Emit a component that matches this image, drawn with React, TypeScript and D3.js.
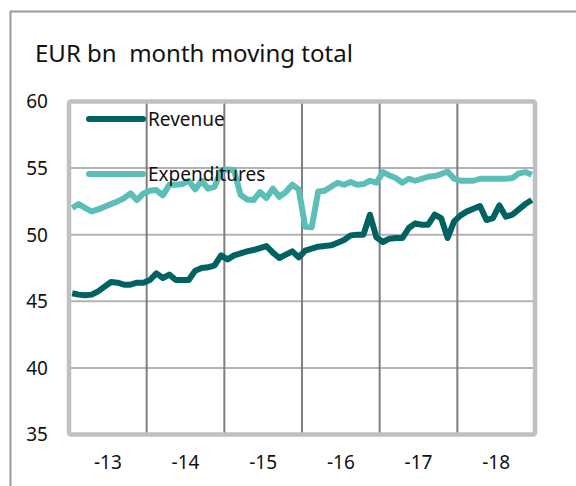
import * as d3 from "d3";
import { useEffect, useRef } from "react";

// monthly 12-month moving totals, Jan 2013 .. Dec 2018
const yearLabels = ["-13", "-14", "-15", "-16", "-17", "-18"];

const revenue = [
  45.6, 45.5, 45.45, 45.5, 45.75, 46.1, 46.45, 46.4, 46.25, 46.25, 46.4, 46.4,
  46.6, 47.1, 46.75, 47.0, 46.6, 46.6, 46.6, 47.3, 47.5, 47.55, 47.7, 48.45,
  48.15, 48.45, 48.6, 48.75, 48.85, 49.0, 49.15, 48.65, 48.25, 48.5, 48.75, 48.3,
  48.8, 48.95, 49.1, 49.15, 49.2, 49.4, 49.6, 49.95, 50.0, 50.0, 51.5, 49.8,
  49.45, 49.7, 49.75, 49.75, 50.5, 50.85, 50.75, 50.75, 51.5, 51.25, 49.75, 51.0,
  51.45, 51.75, 51.95, 52.15, 51.1, 51.25, 52.2, 51.35, 51.5, 51.9, 52.3, 52.6,
];

const expenditures = [
  52.0, 52.3, 52.0, 51.75, 51.9, 52.1, 52.3, 52.5, 52.75, 53.1, 52.6, 53.1,
  53.3, 53.35, 52.95, 53.75, 53.75, 53.8, 54.05, 53.4, 54.05, 53.45, 53.6, 54.8,
  54.9, 54.85, 53.0, 52.65, 52.6, 53.2, 52.75, 53.45, 52.85, 53.2, 53.75, 53.4,
  50.6, 50.55, 53.25, 53.3, 53.6, 53.9, 53.75, 53.95, 53.75, 53.8, 54.05, 53.9,
  54.7, 54.45, 54.25, 53.9, 54.2, 54.05, 54.2, 54.35, 54.4, 54.55, 54.75, 54.2,
  54.05, 54.05, 54.05, 54.2, 54.2, 54.2, 54.2, 54.2, 54.25, 54.6, 54.7, 54.5,
];

const yTicks = [35, 40, 45, 50, 55, 60];

const series = [
  { name: "Revenue", values: revenue, color: "#006361" },
  { name: "Expenditures", values: expenditures, color: "#5cbfb7" },
];

export default function App() {
  const width = 576;
  const height = 486;
  const plotLeft = 69;
  const plotRight = 535;
  const plotTop = 101.5;
  const plotBottom = 434.5;
  const font = "'Noto Sans', sans-serif";
  const ref = useRef<SVGSVGElement>(null);

  useEffect(() => {
    const svg = d3.select(ref.current);
    svg.selectAll("*").remove();

    const months = d3.range(revenue.length);
    const x = d3.scalePoint<number>().domain(months).range([plotLeft, plotRight]).padding(0.5);
    const y = d3.scaleLinear().domain([35, 60]).range([plotBottom, plotTop]);

    // outer frame (only top and left visible)
    svg.append("path")
      .attr("d", `M10.5,${height} V11.5 H${width}`)
      .attr("fill", "none")
      .attr("stroke", "#9a9a9a")
      .attr("stroke-width", 2);

    svg.append("text")
      .attr("x", 35)
      .attr("y", 62)
      .attr("font-family", font)
      .attr("font-size", 24)
      .attr("fill", "#111")
      .style("white-space", "pre")
      .text("EUR bn  month moving total");

    // horizontal grid
    svg.append("g")
      .selectAll("line")
      .data(yTicks.filter((t) => t > 35 && t < 60))
      .join("line")
      .attr("x1", plotLeft)
      .attr("x2", plotRight)
      .attr("y1", (d) => y(d))
      .attr("y2", (d) => y(d))
      .attr("stroke", "#b3b3b3")
      .attr("stroke-width", 2);

    // year separators
    const years = yearLabels.map((label, k) => ({ label, first: k * 12, last: k * 12 + 11 }));
    const step = x.step();
    svg.append("g")
      .selectAll("line")
      .data(years.slice(1))
      .join("line")
      .attr("x1", (d) => x(d.first)! - step / 2)
      .attr("x2", (d) => x(d.first)! - step / 2)
      .attr("y1", plotTop)
      .attr("y2", plotBottom)
      .attr("stroke", "#7f7f7f")
      .attr("stroke-width", 2);

    svg.append("rect")
      .attr("x", plotLeft)
      .attr("y", plotTop)
      .attr("width", plotRight - plotLeft)
      .attr("height", plotBottom - plotTop)
      .attr("rx", 2)
      .attr("fill", "none")
      .attr("stroke", "#c0c0c0")
      .attr("stroke-width", 4.5);

    // y tick labels
    svg.append("g")
      .selectAll("text")
      .data(yTicks)
      .join("text")
      .attr("x", 48)
      .attr("y", (d) => y(d))
      .attr("dy", "0.36em")
      .attr("text-anchor", "end")
      .attr("font-family", font)
      .attr("font-size", 19)
      .attr("fill", "#111")
      .text((d) => d);

    // x tick labels
    svg.append("g")
      .selectAll("text")
      .data(years)
      .join("text")
      .attr("x", (d) => (x(d.first)! + x(d.last)!) / 2)
      .attr("y", 469)
      .attr("text-anchor", "middle")
      .attr("font-family", font)
      .attr("font-size", 19)
      .attr("fill", "#111")
      .text((d) => d.label);

    const line = d3.line<number>()
      .x((_, i) => x(i)!)
      .y((d) => y(d));

    svg.append("g")
      .selectAll("path")
      .data(series)
      .join("path")
      .attr("d", (d) => line(d.values))
      .attr("fill", "none")
      .attr("stroke", (d) => d.color)
      .attr("stroke-width", 6)
      .attr("stroke-linejoin", "round");

    // legend
    const legend = svg.append("g")
      .selectAll("g")
      .data(series)
      .join("g")
      .attr("transform", (_, i) => `translate(0,${119 + i * 55})`);

    legend.append("line")
      .attr("x1", 89)
      .attr("x2", 143)
      .attr("stroke", (d) => d.color)
      .attr("stroke-width", 6)
      .attr("stroke-linecap", "round");

    legend.append("text")
      .attr("x", 148)
      .attr("y", 7)
      .attr("font-family", font)
      .attr("font-size", 19)
      .attr("fill", "#111")
      .text((d) => d.name);
  }, []);

  return (
    <svg
      ref={ref}
      width={width}
      height={height}
      style={{ position: "absolute", left: 0, top: 0, background: "#fff" }}
    />
  );
}
